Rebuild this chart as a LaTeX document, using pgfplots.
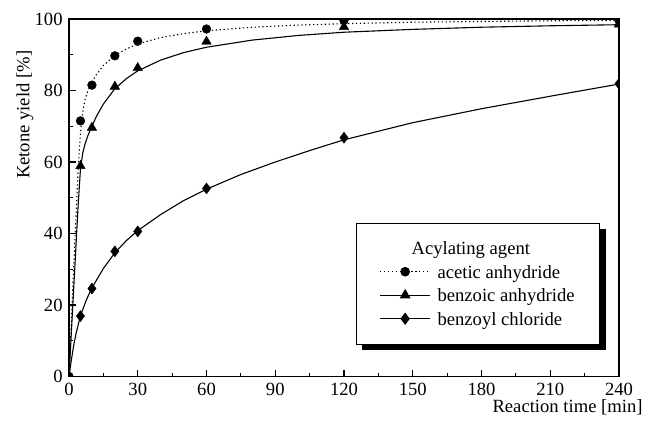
\documentclass[border=0pt]{standalone}
\usepackage{fontspec}
\setmainfont{Liberation Serif}
\usepackage{pgfplots}
\pgfplotsset{compat=1.18}
\newcommand{\ff}{\fontsize{18.7}{22.4}\selectfont}
\begin{document}
\ff
\begin{tikzpicture}
\path[use as bounding box] (-69bp,-44.5bp) rectangle (583bp,376.5bp);
\begin{axis}[
  at={(0,0)}, anchor=south west,
  scale only axis, width=550bp, height=357.5bp,
  xmin=0, xmax=240, ymin=0, ymax=100,
  xtick={0,30,...,240}, ytick={0,20,...,100},
  minor x tick num=1, minor y tick num=1,
  xtick pos=bottom, ytick pos=left,
  tick align=inside,
  major tick length=7bp, minor tick length=4bp,
  axis line style={line width=1.6bp},
  every tick/.style={black, line width=1.2bp},
  clip marker paths=true,
  /pgf/number format/assume math mode=true,
  tick label style={font=\ff},
  ylabel={Ketone yield [\%]},
  xlabel={Reaction time [min]},
  every axis y label/.style={at={(axis description cs:-0.08,0.732)}, rotate=90, anchor=center, font=\ff},
  every axis x label/.style={at={(axis description cs:1.0545,0)}, anchor=base east, yshift=-36.5bp, font=\ff},
  legend image code/.code={\draw[mark repeat=2,mark phase=2,#1] plot coordinates {(0bp,0bp) (25bp,0bp) (50bp,0bp)};},
  legend style={name=leg, at={(axis description cs:0.9655,0.090)}, anchor=south east,
    draw=black, line width=0.8bp, fill=white,
    inner xsep=23bp, inner ysep=14bp, row sep=1.1bp, column sep=5bp,
    font=\ff,
    cells={anchor=west}},
]
% fitted curves
\addplot[forget plot, black, line width=1.1bp, dash pattern=on 1.3bp off 2.6bp] coordinates {
(0,0) (1,15) (2,30) (3,44) (4,58) (5,68) (6,74) (7,77.5) (8,79.5) (10,82.3) (12,84.5) (15,87) (20,89.8) (25,91.6) (30,93) (40,94.8) (50,95.9) (60,96.7) (80,97.7) (100,98.3) (120,98.7) (150,99.1) (180,99.3) (210,99.5) (240,99.6)};
\addplot[forget plot, black, line width=1.1bp] coordinates {
(0,0) (1,12) (2,24) (3,36) (4,48) (5,58) (6,62.5) (7,65) (8,67) (10,70) (12,72.8) (15,76.2) (20,80.5) (25,83.3) (30,85.5) (40,88.5) (50,90.6) (60,92.1) (80,94.1) (100,95.4) (120,96.3) (150,97.1) (180,97.7) (210,98.1) (240,98.4)};
\addplot[forget plot, black, line width=1.1bp] coordinates {
(0,0) (1,4.5) (2,8.5) (3,11.8) (5,17) (7.5,21.3) (10,24.8) (15,30.2) (20,34.6) (25,38) (30,40.8) (40,45.3) (50,49.2) (60,52.4) (75,56.5) (90,60) (105,63.2) (120,66.2) (150,71) (180,74.9) (210,78.4) (240,81.8)};
% data points
\addplot[forget plot, only marks, mark=*, mark size=4.4bp, black] coordinates {
(0,0) (5,71.5) (10,81.5) (20,89.7) (30,93.8) (60,97.2) (120,99.6) (240,99.6)};
\addplot[forget plot, only marks, mark=triangle*, mark size=5.5bp, black] coordinates {
(0,0) (5,58.9) (10,69.6) (20,81.1) (30,86.3) (60,93.7) (120,97.8) (240,98.5)};
\addplot[forget plot, only marks, mark=diamond*, mark size=5.5bp, black] coordinates {
(0,0) (5,16.9) (10,24.6) (20,35.0) (30,40.6) (60,52.6) (120,66.8) (240,81.9)};
% legend
\addlegendimage{empty legend}
\addlegendentry{\strut\hspace{-26bp}Acylating agent}
\addlegendimage{black, line width=0.8bp, dash pattern=on 1.3bp off 2.6bp, mark=*, mark size=4.4bp, mark options={solid}}
\addlegendentry{\strut acetic anhydride}
\addlegendimage{black, line width=0.8bp, mark=triangle*, mark size=5.5bp}
\addlegendentry{\strut benzoic anhydride}
\addlegendimage{black, line width=0.8bp, mark=diamond*, mark size=5.5bp}
\addlegendentry{\strut benzoyl chloride}
\end{axis}
% legend shadow
\fill[black] ([xshift=6bp,yshift=-6bp]leg.south west) rectangle (leg.south east);
\fill[black] ([yshift=-6bp]leg.north east) rectangle ([xshift=6bp,yshift=-6bp]leg.south east);
\end{tikzpicture}
\end{document}
